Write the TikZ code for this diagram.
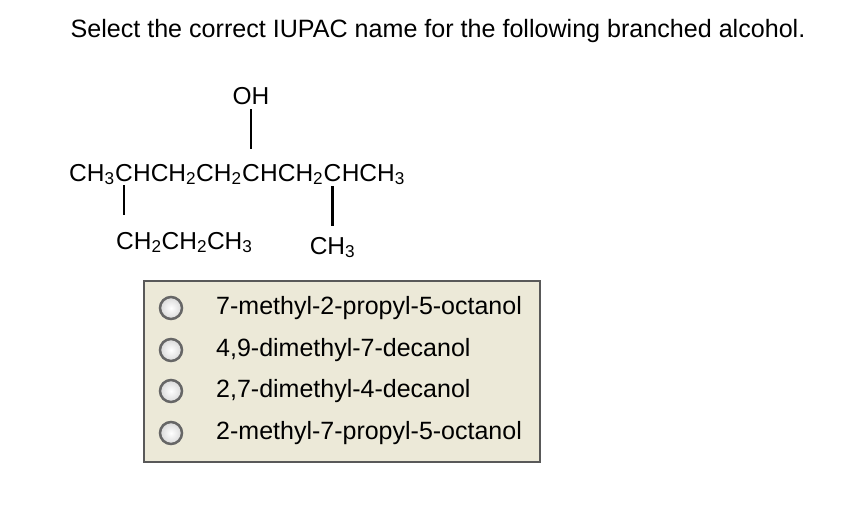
\documentclass[tikz,border=0pt]{standalone}
\usepackage{fontspec}
\setmainfont{Liberation Sans}
\begin{document}
\begin{tikzpicture}[x=1pt,y=-1pt,
  title/.style={font=\fontsize{25.1}{30}\selectfont,inner sep=0pt,anchor=base},
  chem/.style={font=\fontsize{24.5}{29}\selectfont,inner sep=0pt,anchor=base west},
  opt/.style={font=\fontsize{25}{30}\selectfont,inner sep=0pt,anchor=west},
  bond/.style={line width=2.4pt},
  radio/.style={circle,minimum size=22pt,inner sep=0pt,draw=gray!80!black,line width=2.5pt,
     inner color=white,outer color=gray!30}]
\useasboundingbox (0,0) rectangle (844,512);
\fill[white] (0,0) rectangle (844,512);
\node[title] (t) at (438,37) {Select the correct IUPAC name for the following branched alcohol.};
% chain
\node[chem] (c1) at (69,181) {CH\textsubscript{3}};
\node[chem] (c2) at (c1.base east) {C};
\node[chem] (c3) at (c2.base east) {HCH\textsubscript{2}CH\textsubscript{2}};
\node[chem] (c4) at (c3.base east) {C};
\node[chem] (c5) at (c4.base east) {HCH\textsubscript{2}};
\node[chem] (c6) at (c5.base east) {C};
\node[chem] (c7) at (c6.base east) {HCH\textsubscript{3}};
\node[chem,anchor=base] (oh) at (c4.base |- 0,104) {OH};
\node[chem] (p) at (116,249) {CH\textsubscript{2}CH\textsubscript{2}CH\textsubscript{3}};
\node[chem,anchor=base] (m) at (c6.base |- 0,254) {CH\textsubscript{3}};
\draw[bond] (oh.south |- 0,109) -- (c4.north |- 0,149);
\draw[bond] (c2.south |- 0,185) -- (c2.south |- 0,215);
\draw[bond] (c6.south |- 0,186) -- (c6.south |- 0,226);
% box
\node[draw=gray!70!black,line width=2pt,fill={rgb,255:red,236;green,233;blue,216},
  minimum width=396pt,minimum height=181pt,anchor=north west] (box) at (143,280) {};
\foreach \y/\txt [count=\i] in {308/7-methyl-2-propyl-5-octanol,350/{4,9-dimethyl-7-decanol},391/{2,7-dimethyl-4-decanol},433/2-methyl-7-propyl-5-octanol}{
  \node[radio] (r\i) at (171,\y) {};
  \node[opt] (o\i) at (216,\y) {\txt};
}
\end{tikzpicture}
\end{document}
